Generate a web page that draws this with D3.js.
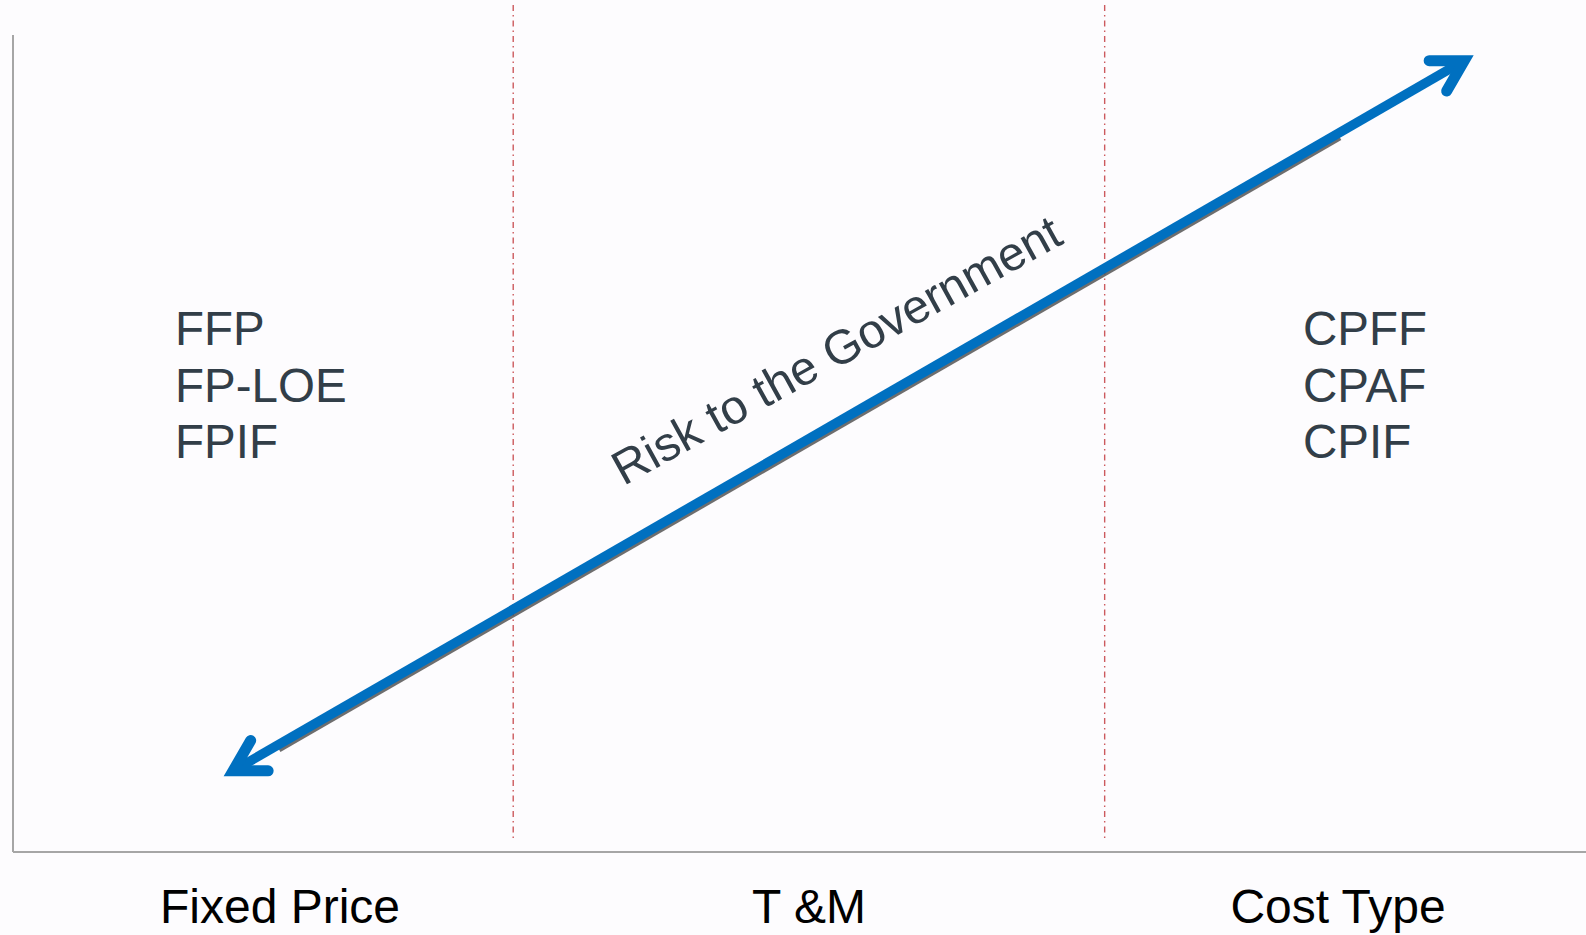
<!DOCTYPE html>
<html>
<head>
<meta charset="utf-8">
<script src="https://cdn.jsdelivr.net/npm/d3@7"></script>
<style>
  html, body { margin: 0; padding: 0; background: #fdfcfe; }
  svg { display: block; font-family: "Liberation Sans", Arial, sans-serif; }
</style>
</head>
<body>
<script>
// contract types along the bottom
var categories = ["Fixed Price", "T &M", "Cost Type"];
var leftTypes = ["FFP", "FP-LOE", "FPIF"];
var rightTypes = ["CPFF", "CPAF", "CPIF"];
// divider positions, in percent of the plot width
var dividers = [31.8, 69.4];
// risk arrow, [x%, y%] of the plot area
var riskArrow = [[13.5, 9.0], [92.75, 93.4]];
var riskLabel = "Risk to the Government";

var width = 1586;
var height = 935;

var svg = d3.select("body").append("svg")
    .attr("width", width)
    .attr("height", height);

svg.append("rect").attr("width", width).attr("height", height).attr("fill", "#fdfcfe");

var x = d3.scaleLinear().domain([0, 100]).range([13, 1586]);
var y = d3.scaleLinear().domain([0, 100]).range([852, 0]);

// axes (just the two lines)
svg.append("line")
    .attr("x1", x(0)).attr("x2", x(0))
    .attr("y1", 35).attr("y2", y(0))
    .attr("stroke", "#a6a6a6").attr("stroke-width", 2);
svg.append("line")
    .attr("x1", x(0)).attr("x2", x(100))
    .attr("y1", y(0)).attr("y2", y(0))
    .attr("stroke", "#a6a6a6").attr("stroke-width", 2);

// dash-dot dividers
svg.selectAll(".divider")
    .data(dividers)
    .enter().append("line")
    .attr("class", "divider")
    .attr("x1", d => x(d)).attr("x2", d => x(d))
    .attr("y1", 5).attr("y2", 838)
    .attr("stroke", "#cc5a5e")
    .attr("stroke-width", 1.4)
    .attr("stroke-dasharray", "6,4,1.5,4");

// arrow geometry
var p0 = [x(riskArrow[0][0]), y(riskArrow[0][1])];
var p1 = [x(riskArrow[1][0]), y(riskArrow[1][1])];
var ang = Math.atan2(p1[1] - p0[1], p1[0] - p0[0]);
var ux = Math.cos(ang), uy = Math.sin(ang);
var blue = "#0070c0";

function pt(t, off) {
    return [p0[0] + (p1[0] - p0[0]) * t + off[0], p0[1] + (p1[1] - p0[1]) * t + off[1]];
}

// shadow under the shaft
var s0 = pt(0.042, [0.5, 3]), s1 = pt(0.893, [0.5, 3]);
svg.append("line")
    .attr("x1", s0[0]).attr("y1", s0[1]).attr("x2", s1[0]).attr("y2", s1[1])
    .attr("stroke", "#4a4a4a").attr("stroke-opacity", 0.8).attr("stroke-width", 9);

// shaft
var inset = 9;
svg.append("line")
    .attr("x1", p0[0] + ux * inset).attr("y1", p0[1] + uy * inset)
    .attr("x2", p1[0] - ux * inset).attr("y2", p1[1] - uy * inset)
    .attr("stroke", blue).attr("stroke-width", 9.5);

// heads
function head(tip, dir) {
    var tx = tip[0] - dir[0] * inset, ty = tip[1] - dir[1] * inset;
    var a = Math.atan2(-dir[1], -dir[0]);
    var len = 35, spread = Math.PI / 6;
    var a1 = [tx + len * Math.cos(a + spread), ty + len * Math.sin(a + spread)];
    var a2 = [tx + len * Math.cos(a - spread), ty + len * Math.sin(a - spread)];
    return "M" + a1 + "L" + [tx, ty] + "L" + a2;
}
svg.selectAll(".head")
    .data([[p1, [ux, uy]], [p0, [-ux, -uy]]])
    .enter().append("path")
    .attr("d", d => head(d[0], d[1]))
    .attr("fill", "none")
    .attr("stroke", blue)
    .attr("stroke-width", 11)
    .attr("stroke-linecap", "round")
    .attr("stroke-linejoin", "miter");

// rotated label
var mid = pt(0.5, [0, 0]);
svg.append("text")
    .attr("transform", "translate(" + mid + ") rotate(" + (ang * 180 / Math.PI + 1.1) + ")")
    .attr("x", 21).attr("y", -47)
    .attr("text-anchor", "middle")
    .attr("font-size", 48)
    .attr("fill", "#323e48")
    .text(riskLabel);

// type lists
var row = d3.scalePoint().domain(d3.range(3)).range([345, 458]);
function list(items, left) {
    svg.append("g").selectAll("text")
        .data(items)
        .enter().append("text")
        .attr("x", left)
        .attr("y", (d, i) => row(i))
        .attr("font-size", 47.5)
        .attr("fill", "#323e48")
        .text(d => d);
}
list(leftTypes, 175);
list(rightTypes, 1303);

// category labels
var cx = d3.scalePoint().domain(categories).range([280, 1338]);
svg.selectAll(".cat")
    .data(categories)
    .enter().append("text")
    .attr("class", "cat")
    .attr("x", d => cx(d))
    .attr("y", 923)
    .attr("text-anchor", "middle")
    .attr("font-size", 48)
    .attr("fill", "#000")
    .text(d => d);
</script>
</body>
</html>
